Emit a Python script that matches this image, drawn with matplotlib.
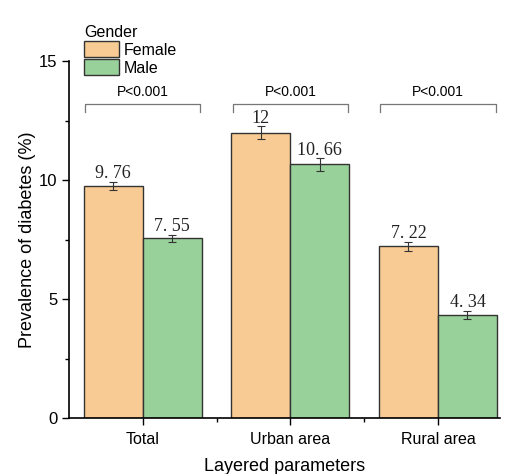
import numpy as np
import matplotlib.pyplot as plt
from matplotlib.ticker import MultipleLocator, FixedLocator

plt.rcParams['font.family'] = ['Liberation Sans', 'DejaVu Sans']

categories = ["Total", "Urban area", "Rural area"]
female = [9.76, 12.0, 7.22]
male = [7.55, 10.66, 4.34]
female_err = [0.17, 0.27, 0.2]
male_err = [0.15, 0.26, 0.18]
female_lbl = ["9. 76", "12", "7. 22"]
male_lbl = ["7. 55", "10. 66", "4. 34"]
p_text = ["P<0.001", "P<0.001", "P<0.001"]

fig = plt.figure(figsize=(5.1, 4.74), dpi=100)
ax = fig.add_axes([0.1353, 0.118, 0.845, 0.753])

x = np.arange(len(categories))
w = 0.4
ekw = dict(ecolor="#333333", elinewidth=0.8, capsize=3, capthick=0.8)
ax.bar(x - w / 2, female, w, yerr=female_err, color="#F8CB94",
       edgecolor="#333333", linewidth=1, label="Female", error_kw=ekw)
ax.bar(x + w / 2, male, w, yerr=male_err, color="#98D19A",
       edgecolor="#333333", linewidth=1, label="Male", error_kw=ekw)

# value labels over the error bars
for xi, v, e, t in zip(x - w / 2, female, female_err, female_lbl):
    ax.text(xi, v + e - 0.02, t, ha="center", va="bottom", fontsize=13,
            family="Liberation Serif", color="#222222")
for xi, v, e, t in zip(x + w / 2, male, male_err, male_lbl):
    ax.text(xi, v + e - 0.02, t, ha="center", va="bottom", fontsize=13,
            family="Liberation Serif", color="#222222")

# significance brackets
for xi, t in zip(x, p_text):
    x0, x1 = xi - 0.39, xi + 0.39
    ax.plot([x0, x0, x1, x1], [12.85, 13.22, 13.22, 12.85], color="#777777",
            lw=0.9, clip_on=False)
    ax.text(xi, 13.4, t, ha="center", va="bottom", fontsize=10)

ax.set_xlim(-0.5, 2.42)
ax.set_ylim(0, 15)
ax.set_xticks(x)
ax.set_xticklabels(categories)
ax.xaxis.set_minor_locator(FixedLocator([0.5, 1.5]))
ax.yaxis.set_major_locator(MultipleLocator(5))
ax.yaxis.set_minor_locator(MultipleLocator(2.5))
ax.tick_params(axis="both", which="major", length=5, width=1, labelsize=12)
ax.tick_params(axis="x", which="major", labelsize=11.5, pad=5)
ax.tick_params(axis="both", which="minor", length=3, width=1)
for s in ["top", "right"]:
    ax.spines[s].set_visible(False)
ax.spines["left"].set_linewidth(1.2)
ax.spines["bottom"].set_linewidth(1.2)

ax.set_xlabel("Layered parameters", fontsize=13, labelpad=8)
ax.set_ylabel("Prevalence of diabetes (%)", fontsize=13, labelpad=2)

ax.legend(title="Gender", loc="upper left", bbox_to_anchor=(0.02, 1.12),
          frameon=False, fontsize=11.5, title_fontsize=11.5,
          handlelength=2.2, handleheight=1.15, borderaxespad=0,
          labelspacing=0.1, handletextpad=0.3, alignment="left")

fig.savefig("out.png", dpi=100)
